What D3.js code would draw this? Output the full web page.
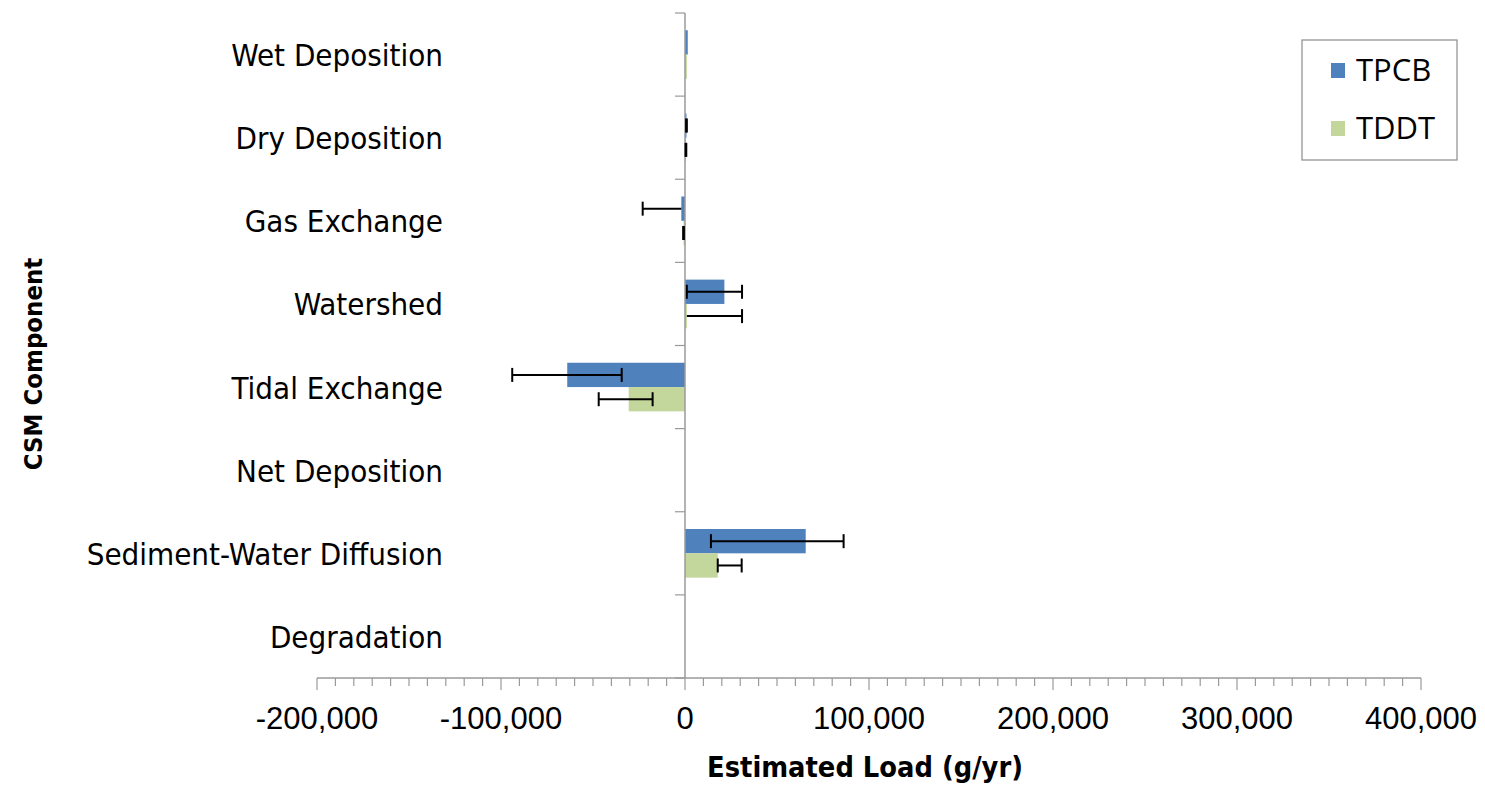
<!DOCTYPE html>
<html>
<head>
<meta charset="utf-8">
<script src="https://cdn.jsdelivr.net/npm/d3@7"></script>
<style>
  html, body { margin: 0; padding: 0; background: #fff; }
  svg { display: block; }
  .cat { font-family: 'DejaVu Sans Condensed', 'DejaVu Sans', sans-serif; font-stretch: condensed; font-size: 31px; fill: #000; }
  .tick { font-family: 'Liberation Sans', Arial, sans-serif; font-size: 31px; fill: #000; }
  .title { font-family: 'DejaVu Sans Condensed', 'DejaVu Sans', sans-serif; font-stretch: condensed; font-weight: bold; font-size: 28.7px; fill: #000; }
  .ytitle { font-family: 'DejaVu Sans Condensed', 'DejaVu Sans', sans-serif; font-stretch: condensed; font-weight: bold; font-size: 25.5px; fill: #000; }
  .leg { font-family: 'Open Sans', sans-serif; font-size: 31px; fill: #000; }
</style>
</head>
<body>
<svg id="chart" width="1485" height="786"></svg>
<script>
// ---- data ----
const categories = ["Wet Deposition", "Dry Deposition", "Gas Exchange", "Watershed",
  "Tidal Exchange", "Net Deposition", "Sediment-Water Diffusion", "Degradation"];
const seriesNames = ["TPCB", "TDDT"];
const tpcbValues = [1500, 800, -2000, 21400, -64000, 0, 65600, 0];
const tpcbErrLow = [null, 600, -23000, 1000, -93900, null, 14100, null];
const tpcbErrHigh = [null, 1000, null, 31000, -34400, null, 86200, null];
const tddtValues = [1000, 500, -800, 1000, -30600, 0, 17800, 0];
const tddtErrLow = [null, 300, -1000, null, -46900, null, 17800, null];
const tddtErrHigh = [null, 700, -600, 31000, -17600, null, 30800, null];
const xTickValues = [-200000, -100000, 0, 100000, 200000, 300000, 400000];
const colors = ["#4F81BD", "#C3D69B"];

const series = [
  { name: seriesNames[0], values: tpcbValues, lo: tpcbErrLow, hi: tpcbErrHigh, color: colors[0] },
  { name: seriesNames[1], values: tddtValues, lo: tddtErrLow, hi: tddtErrHigh, color: colors[1] }
];

const svg = d3.select("#chart");
const plotTop = 13, plotBottom = 678, plotLeft = 317, plotRight = 1421;

const x = d3.scaleLinear().domain([-200000, 400000]).range([plotLeft, plotRight]);
const y = d3.scaleBand().domain(categories).range([plotTop, plotBottom])
  .paddingInner(0.415).paddingOuter(0.2075);
const ySub = d3.scaleBand().domain(seriesNames).range([0, y.bandwidth()]);
const step = y.step();
const axisColor = "#9a9a9a";

// bars
series.forEach(s => {
  svg.append("g").selectAll("rect").data(categories).join("rect")
    .attr("x", (c, i) => x(Math.min(0, s.values[i])))
    .attr("width", (c, i) => Math.abs(x(s.values[i]) - x(0)))
    .attr("y", c => y(c) + ySub(s.name))
    .attr("height", ySub.bandwidth())
    .attr("fill", s.color);
});

// x axis
const xMinor = d3.range(-200000, 400001, 10000);
const gx = svg.append("g");
gx.append("line").attr("x1", x(-200000)).attr("x2", x(400000))
  .attr("y1", plotBottom).attr("y2", plotBottom).attr("stroke", axisColor).attr("stroke-width", 1.5);
gx.selectAll("line.minor").data(xMinor).join("line").attr("class", "minor")
  .attr("x1", d => x(d)).attr("x2", d => x(d))
  .attr("y1", plotBottom).attr("y2", d => plotBottom + (d % 100000 === 0 ? 12 : 8))
  .attr("stroke", axisColor).attr("stroke-width", 1.2);
gx.selectAll("text").data(xTickValues).join("text").attr("class", "tick")
  .attr("x", d => x(d)).attr("y", 729).attr("text-anchor", "middle")
  .text(d => d3.format(",")(d).replace("−", "-"));

// y axis at zero
const gy = svg.append("g");
gy.append("line").attr("x1", x(0)).attr("x2", x(0)).attr("y1", plotTop).attr("y2", plotBottom)
  .attr("stroke", axisColor).attr("stroke-width", 1.5);
gy.selectAll("line.t").data(d3.range(categories.length + 1)).join("line").attr("class", "t")
  .attr("x1", x(0) - 10).attr("x2", x(0))
  .attr("y1", i => plotTop + i * step).attr("y2", i => plotTop + i * step)
  .attr("stroke", axisColor).attr("stroke-width", 1.2);

// category labels
svg.append("g").selectAll("text").data(categories).join("text").attr("class", "cat")
  .attr("x", 443).attr("y", c => y(c) + y.bandwidth() / 2 + 11.5)
  .attr("text-anchor", "end").text(c => c);

// error bars
const capH = 14;
series.forEach(s => {
  const g = svg.append("g").attr("stroke", "#000").attr("stroke-width", 2);
  categories.forEach((c, i) => {
    const lo = s.lo[i], hi = s.hi[i];
    if (lo === null && hi === null) return;
    const cy = y(c) + ySub(s.name) + ySub.bandwidth() / 2;
    const a = lo === null ? s.values[i] : lo;
    const b = hi === null ? s.values[i] : hi;
    g.append("line").attr("x1", x(a)).attr("x2", x(b)).attr("y1", cy).attr("y2", cy);
    [lo, hi].forEach(v => {
      if (v === null) return;
      g.append("line").attr("x1", x(v)).attr("x2", x(v))
        .attr("y1", cy - capH / 2).attr("y2", cy + capH / 2);
    });
  });
});

// axis titles
svg.append("text").attr("class", "title").attr("x", 865).attr("y", 777)
  .attr("text-anchor", "middle").text("Estimated Load (g/yr)");
svg.append("text").attr("class", "ytitle")
  .attr("transform", "translate(42,364) rotate(-90)")
  .attr("text-anchor", "middle").text("CSM Component");

// legend
const lg = svg.append("g");
lg.append("rect").attr("x", 1302).attr("y", 40).attr("width", 155).attr("height", 120)
  .attr("fill", "#fff").attr("stroke", "#8c8c8c").attr("stroke-width", 1.2);
series.forEach((s, i) => {
  const cy = 70 + i * 58;
  lg.append("rect").attr("x", 1331).attr("y", cy - 7).attr("width", 14).attr("height", 15).attr("fill", s.color);
  lg.append("text").attr("class", "leg").attr("x", 1356).attr("y", cy + 11).text(s.name);
});
</script>
</body>
</html>
